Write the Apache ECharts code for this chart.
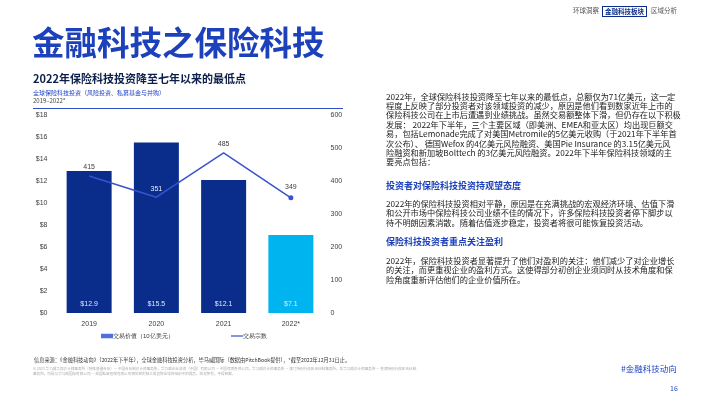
<!DOCTYPE html>
<html>
<head>
<meta charset="utf-8">
<script src="https://cdn.jsdelivr.net/npm/echarts@6/dist/echarts.min.js"></script>
<style>
  html, body { margin: 0; padding: 0; background: #fff; }
  body { width: 710px; height: 399px; position: relative; overflow: hidden;
    font-family: "Noto Sans CJK SC", "Noto Sans", sans-serif; color: #222; }
  #chart { position: absolute; left: 0; top: 0; width: 710px; height: 399px; }
  .t { position: absolute; white-space: nowrap; line-height: 1; }
  .nav { top: 7px; font-size: 6.5px; color: #555; }
  .navBox { top: 6px; left: 602px; font-size: 6.5px; font-weight: bold; color: #0c2d8a;
    border: 1px solid #0c2d8a; padding: 1px 2px; }
  .title { left: 32px; top: 25px; font-size: 32.5px; font-weight: bold; color: #1c41bb; }
  .sub { left: 33px; top: 73px; font-size: 11px; font-weight: bold; color: #0b1f4a; }
  .note1 { left: 33px; top: 90px; font-size: 6px; color: #1d44c4; }
  .note2 { left: 33px; top: 98px; font-size: 6px; color: #444; }
  .rule { position: absolute; left: 33px; top: 108px; width: 310px; height: 1px; background: #2f4fc4; }
  .para { position: absolute; left: 386px; font-size: 8.2px; line-height: 9.4px; color: #222; white-space: nowrap; }
  .head { position: absolute; left: 386px; font-size: 9px; font-weight: bold; color: #1c41bb; white-space: nowrap; }
  .src { left: 34px; top: 357px; font-size: 5.2px; color: #333; }
  .copy { position: absolute; left: 33px; top: 366px; font-size: 3.6px; line-height: 5.2px; color: #aaa; white-space: nowrap; }
  .tag { left: 621px; top: 364px; font-size: 8.5px; color: #1d44c4; }
  .page { left: 670px; top: 385px; font-size: 7px; color: #1d44c4; }
</style>
</head>
<body>
<div id="chart"></div>

<div class="t nav" style="left:573px">环球洞察</div>
<div class="t navBox">金融科技板块</div>
<div class="t nav" style="left:651px">区域分析</div>

<div class="t title">金融科技之保险科技</div>
<div class="t sub">2022年保险科技投资降至七年以来的最低点</div>
<div class="t note1">全球保险科技投资（风险投资、私募基金与并购）</div>
<div class="t note2">2019–2022*</div>
<div class="rule"></div>

<div class="para" style="top:91.5px">2022年，全球保险科技投资降至七年以来的最低点，总额仅为71亿美元，这一定<br>程度上反映了部分投资者对该领域投资的减少，原因是他们看到数家近年上市的<br>保险科技公司在上市后遭遇到业绩挑战。虽然交易额整体下滑，但仍存在以下积极<br>发展： 2022年下半年，三个主要区域（即美洲、EMEA和亚太区）均出现巨额交<br>易，包括Lemonade完成了对美国Metromile的5亿美元收购（于2021年下半年首<br>次公布）、 德国Wefox 的4亿美元风险融资、美国Pie Insurance 的3.15亿美元风<br>险融资和新加坡Bolttech 的3亿美元风险融资。2022年下半年保险科技领域的主<br>要亮点包括：</div>
<div class="head" style="top:179px">投资者对保险科技投资持观望态度</div>
<div class="para" style="top:199px">2022年的保险科技投资相对平静，原因是在充满挑战的宏观经济环境、估值下滑<br>和公开市场中保险科技公司业绩不佳的情况下，许多保险科技投资者停下脚步以<br>待不明朗因素消散。随着估值逐步稳定，投资者将很可能恢复投资活动。</div>
<div class="head" style="top:235px">保险科技投资者重点关注盈利</div>
<div class="para" style="top:256px">2022年，保险科技投资者显著提升了他们对盈利的关注：他们减少了对企业增长<br>的关注，而更重视企业的盈利方式。这使得部分初创企业须同时从技术角度和保<br>险角度重新评估他们的企业价值所在。</div>

<div class="t src">信息来源：《金融科技动向》（2022年下半年），全球金融科技投资分析，毕马威国际（数据由PitchBook提供），*截至2022年12月31日止。</div>
<div class="copy">© 2023 毕马威华振会计师事务所（特殊普通合伙）— 中国合伙制会计师事务所，毕马威企业咨询（中国）有限公司 — 中国有限责任公司，毕马威会计师事务所 — 澳门特别行政区合伙制事务所，及毕马威会计师事务所 — 香港特别行政区合伙制<br>事务所，均是与毕马威国际有限公司 — 英国私营担保有限公司相关联的独立成员所全球性组织中的成员。版权所有，不得转载。</div>
<div class="t tag">#金融科技动向</div>
<div class="t page">16</div>

<script>
// 数据
const years = ['2019', '2020', '2021', '2022*']
const dealValue = [12.9, 15.5, 12.1, 7.1]   // 交易价值（10亿美元）
const dealCount = [415, 351, 485, 349]      // 交易宗数

const navy = '#0a2d8c'
const cyan = '#00b4ef'
const lineColor = '#3a52cf'

const chart = echarts.init(document.getElementById('chart'))

// 标签落在柱子里面就用浅色，只有最后一个点画圆点
const countData = dealCount.map((v, i) => {
  const inside = v / 600 * 18 + 1 < dealValue[i]
  const last = i === dealCount.length - 1
  return {
    value: v,
    symbolSize: last ? 5 : 0,
    label: { color: inside ? '#e8eeff' : '#404040' }
  }
})

const option = {
  animation: false,
  grid: { left: 55.5, right: 385.5, top: 115, bottom: 86 },
  legend: [
    {
      data: [{ name: '交易价值（10亿美元）', icon: 'rect' }],
      left: 101, top: 333, padding: 0,
      itemWidth: 12, itemHeight: 4.5,
      textStyle: { fontSize: 6, color: '#333', padding: [0, 0, 0, -5] }
    },
    {
      data: [{ name: '交易宗数', icon: 'rect' }],
      left: 231, top: 333, padding: 0,
      itemWidth: 12, itemHeight: 1.2,
      textStyle: { fontSize: 6, color: '#333', padding: [0, 0, 0, -5] }
    }
  ],
  xAxis: {
    type: 'category',
    data: years,
    axisLine: { show: false },
    axisTick: { show: false },
    axisLabel: { fontSize: 7, color: '#404040', margin: 8 }
  },
  yAxis: [
    {
      type: 'value', min: 0, max: 18, interval: 2,
      splitLine: { show: false },
      axisLabel: { fontSize: 7, color: '#404040', margin: 8, formatter: v => '$' + v }
    },
    {
      type: 'value', min: 0, max: 600, interval: 100,
      splitLine: { show: false },
      axisLabel: { fontSize: 7, color: '#404040', margin: 6 }
    }
  ],
  series: [
    {
      name: '交易价值（10亿美元）',
      type: 'bar',
      data: dealValue,
      barWidth: 45,
      itemStyle: {
        color: p => (years[p.dataIndex].endsWith('*') ? cyan : navy)
      },
      label: {
        show: true, position: 'insideBottom', distance: 5,
        fontSize: 7, color: '#dfe7ff',
        formatter: p => '$' + p.value.toFixed(1)
      }
    },
    {
      name: '交易宗数',
      type: 'line',
      yAxisIndex: 1,
      data: countData,
      symbol: 'circle',
      color: lineColor,
      lineStyle: { width: 1.5, color: lineColor },
      label: { show: true, position: 'top', distance: 5, fontSize: 7 }
    }
  ]
}

chart.setOption(option)
</script>
</body>
</html>
